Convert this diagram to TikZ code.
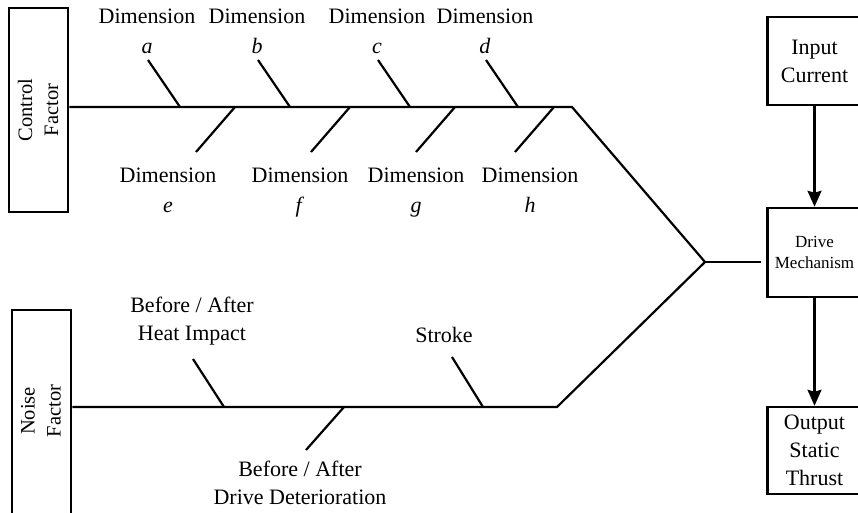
\documentclass[tikz,border=0pt]{standalone}
\usepackage{fontspec}
\setmainfont{Liberation Serif}
\usetikzlibrary{arrows.meta}

\begin{document}
\begin{tikzpicture}[
    x=1pt, y=-1pt,
    >={Stealth[length=16pt, width=14pt, inset=2pt]},
    every node/.style={font=\fontsize{22}{28}\selectfont, align=center, inner sep=0pt},
    factorbox/.style={draw, line width=2.5pt, minimum width=59pt},
    blockbox/.style={draw, line width=2.5pt, minimum width=94pt},
    boxlbl/.style={rotate=90, font=\fontsize{20.5}{26}\selectfont},
    bone/.style={line width=2.2pt},
    dimlbl/.style={font=\fontsize{22}{30}\selectfont}
]
\useasboundingbox (0,0) rectangle (858,512);

% =========================================================
% Faktor-Kaesten links
% =========================================================
\node[factorbox, minimum height=204pt] (ctrlbox) at (38.5,110) {};
\node[boxlbl] (ctrltxt) at (38,110) {Control\\Factor};

\node[factorbox, minimum height=220pt] (noisebox) at (41.5,420) {};
\node[boxlbl] (noisetxt) at (41,411) {Noise\\Factor};

% =========================================================
% Bloecke rechts
% =========================================================
\node[blockbox, minimum height=88pt] (input) at (814.5,61) {Input\\Current};
\node[blockbox, minimum height=89pt, font=\fontsize{17}{21}\selectfont]
    (drive) at (814.5,252.5) {Drive\\Mechanism};
\node[blockbox, minimum height=87pt] (output) at (814.5,450.5)
    {Output\\Static\\Thrust};

\draw[->, bone] (input) -- (drive);
\draw[->, bone] (drive) -- (output);

% =========================================================
% Hauptgraeten
% =========================================================
\coordinate (cjoin) at (572,107);
\coordinate (njoin) at (557,407);
\coordinate (hub) at (705,262);

\draw[bone] (ctrlbox.east |- cjoin) -- (cjoin) -- (hub);
\draw[bone] (noisebox.east |- njoin) -- (njoin) -- (hub);
\draw[bone, shorten >=5pt] (hub) -- (drive.west |- hub);

% Control: obere Graeten
\foreach \x/\l in {180/a, 290/b, 410/c, 518/d} {
    \coordinate (sp\l) at (\x,107);
    \coordinate (tip\l) at (\x-32,60);
    \node[dimlbl] (lbl\l) at (\x-33,36) {Dimension\\\textit{\l}\strut};
    \draw[bone] (tip\l) -- (sp\l);
}

% Control: untere Graeten
\foreach \x/\l/\t in {235/e/168, 350/f/300, 455/g/416, 554/h/530} {
    \coordinate (sp\l) at (\x,107);
    \coordinate (tip\l) at (\x-39,152);
    \node[dimlbl] (lbl\l) at (\t,195) {Dimension\\\textit{\l}\strut};
    \draw[bone] (sp\l) -- (tip\l);
}

% Noise: Graeten
\coordinate (spheat) at (224,407);
\coordinate (tipheat) at (193,359);
\node (lblheat) at (192,321) {Before / After\\Heat Impact};
\draw[bone] (tipheat) -- (spheat);

\coordinate (spstroke) at (483,407);
\coordinate (tipstroke) at (452,357);
\node (lblstroke) at (444,335) {Stroke};
\draw[bone] (tipstroke) -- (spstroke);

\coordinate (spdet) at (344,407);
\coordinate (tipdet) at (306,450);
\node (lbldet) at (300,483) {Before / After\\Drive Deterioration};
\draw[bone] (spdet) -- (tipdet);

\end{tikzpicture}
\end{document}
